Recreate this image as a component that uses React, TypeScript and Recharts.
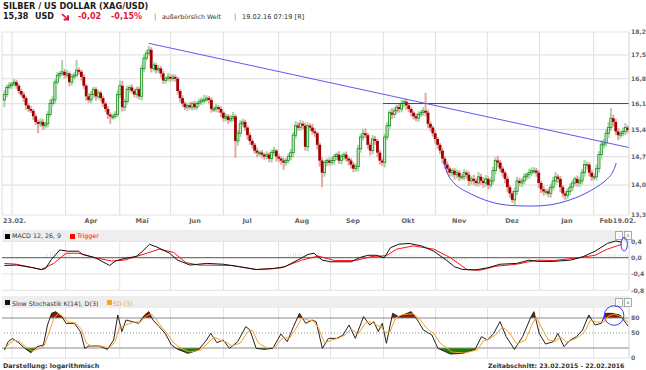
import React from 'react';
import {
  ComposedChart, Bar, Line, Area, XAxis, YAxis, CartesianGrid, ReferenceLine, ReferenceDot,
} from 'recharts';

const FONT = '"DejaVu Sans", Verdana, sans-serif';

// ---- price data (trading-day index 0 = 23.02.2015) ----
const firstOpen = 16.2;
const closes = [
  16.35, 16.55, 16.6, 16.65, 16.7, 16.6, 16.45, 16.35, 16.25, 16.05,
  15.95, 15.9, 15.75, 15.6, 15.55, 15.6, 15.5, 15.55, 15.8, 16.1,
  16.2, 16.7, 16.9, 16.95, 17.0, 16.9, 16.95, 16.7, 16.85, 16.9,
  17.05, 17.0, 16.85, 16.6, 16.3, 16.2, 16.35, 16.5, 16.3, 16.4,
  16.25, 16.1, 15.95, 15.8, 15.75, 15.75, 15.8, 16.35, 16.6, 16.0,
  16.15, 16.5, 16.55, 16.45, 16.35, 16.5, 16.3, 17.1, 17.4, 17.55,
  17.65, 17.1, 17.2, 17.05, 17.1, 16.95, 16.75, 16.8, 16.85, 16.8,
  16.85, 16.8, 16.45, 16.25, 16.1, 16.0, 16.05, 16.0, 16.1, 16.0,
  16.1, 16.15, 16.2, 16.2, 16.25, 16.2, 15.95, 15.95, 16.0, 15.95,
  15.85, 15.7, 15.75, 15.65, 15.7, 15.75, 15.1, 15.3, 15.55, 15.6,
  15.45, 15.25, 15.1, 15.0, 14.85, 14.8, 14.8, 14.75, 14.7, 14.75,
  14.65, 14.8, 14.85, 14.7, 14.65, 14.6, 14.55, 14.6, 14.7, 14.8,
  15.25, 15.5, 15.45, 15.55, 15.5, 14.95, 15.5, 15.45, 15.35, 15.3,
  15.0, 14.6, 14.3, 14.55, 14.6, 14.55, 14.6, 14.7, 14.75, 14.6,
  14.7, 14.75, 14.65, 14.6, 14.5, 14.4, 14.45, 14.9, 15.2, 15.3,
  15.25, 15.0, 14.85, 15.15, 15.1, 14.8, 14.6, 14.55, 15.2, 15.5,
  15.85, 15.8, 15.9, 16.0, 15.95, 16.1, 16.15, 16.05, 15.95, 15.85,
  15.75, 15.7, 15.8, 15.85, 15.9, 15.85, 15.55, 15.45, 15.3, 15.15,
  15.0, 14.85, 14.65, 14.5, 14.4, 14.3, 14.35, 14.25, 14.3, 14.2,
  14.2, 14.3, 14.25, 14.1, 14.15, 14.1, 14.05, 14.2, 14.1, 14.05,
  14.15, 14.0, 14.1, 14.35, 14.6, 14.55, 14.4, 14.3, 14.15, 13.95,
  13.8, 13.65, 13.85, 14.1, 14.05, 14.1, 14.2, 14.25, 14.3, 14.35,
  14.35, 14.3, 14.05, 13.9, 13.85, 13.85, 13.8, 13.95, 14.1, 14.2,
  14.15, 13.95, 13.8, 13.75, 13.85, 13.95, 14.05, 14.15, 14.05, 14.1,
  14.3, 14.5, 14.5, 14.3, 14.2, 14.2, 14.4, 14.75, 15.0, 15.05,
  15.3, 15.45, 15.7, 15.6, 15.35, 15.25, 15.3, 15.35, 15.45, 15.38,
];
// wick lengths in cents above max(open, close) / below min(open, close)
const upperWicks = [
  12, 8, 10, 6, 9, 7, 5, 6, 8, 5, 6, 8, 5, 7, 6, 10, 8, 6, 9, 12,
  10, 8, 9, 7, 35, 8, 10, 6, 9, 8, 30, 7, 6, 8, 5, 9, 10, 7, 6, 8,
  6, 7, 5, 8, 6, 7, 9, 12, 15, 14, 8, 10, 7, 9, 6, 8, 7, 10, 12, 9,
  13, 8, 9, 6, 10, 7, 8, 6, 12, 9, 8, 7, 6, 5, 8, 6, 7, 9, 6, 8,
  6, 9, 7, 14, 8, 6, 7, 8, 10, 6, 7, 5, 8, 6, 9, 12, 5, 8, 10, 9,
  6, 5, 7, 6, 5, 8, 6, 7, 5, 9, 6, 8, 10, 5, 7, 6, 8, 6, 9, 10,
  8, 12, 9, 10, 7, 8, 9, 6, 10, 8, 5, 6, 8, 7, 6, 8, 10, 7, 6, 9,
  7, 6, 8, 5, 6, 7, 8, 10, 9, 12, 13, 6, 7, 10, 8, 5, 6, 7, 9, 10,
  8, 12, 9, 7, 10, 10, 6, 8, 7, 6, 5, 8, 9, 7, 10, 50, 8, 6, 5, 7,
  6, 5, 7, 6, 8, 5, 6, 7, 8, 6, 7, 9, 6, 8, 7, 10, 6, 12, 7, 8,
  9, 6, 8, 10, 8, 12, 7, 6, 5, 8, 6, 7, 9, 10, 8, 7, 9, 6, 10, 8,
  9, 7, 6, 5, 8, 6, 7, 8, 10, 12, 6, 7, 5, 6, 8, 9, 7, 6, 8, 10,
  9, 12, 8, 6, 7, 8, 10, 9, 12, 10, 12, 15, 27, 10, 8, 9, 7, 10, 12, 6,
];
const lowerWicks = [
  20, 8, 6, 10, 7, 9, 8, 6, 10, 12, 8, 6, 10, 8, 25, 9, 12, 8, 10, 6,
  8, 12, 6, 9, 7, 10, 8, 12, 9, 7, 6, 8, 10, 9, 12, 8, 10, 9, 12, 8,
  9, 10, 8, 12, 20, 9, 7, 8, 10, 12, 10, 8, 9, 7, 8, 10, 9, 12, 10, 8,
  7, 12, 9, 10, 8, 12, 10, 9, 8, 10, 7, 9, 10, 12, 9, 8, 10, 7, 9, 8,
  7, 8, 9, 10, 6, 12, 10, 8, 9, 10, 12, 9, 8, 10, 7, 9, 43, 12, 10, 8,
  9, 12, 10, 9, 8, 12, 10, 9, 8, 7, 9, 10, 8, 12, 9, 10, 18, 8, 7, 9,
  12, 10, 8, 9, 10, 10, 12, 9, 8, 10, 12, 15, 35, 10, 9, 8, 7, 10, 9, 8,
  10, 9, 8, 12, 10, 9, 8, 12, 10, 9, 8, 10, 12, 9, 10, 12, 10, 9, 12, 8,
  10, 12, 9, 8, 10, 9, 10, 12, 9, 10, 9, 8, 10, 7, 9, 10, 12, 10, 9, 12,
  10, 9, 12, 10, 11, 9, 10, 12, 9, 10, 8, 9, 10, 12, 9, 10, 8, 9, 10, 12,
  9, 10, 8, 9, 10, 12, 9, 10, 11, 12, 10, 7, 12, 9, 8, 10, 9, 8, 10, 9,
  8, 10, 12, 9, 10, 8, 9, 10, 8, 9, 10, 12, 9, 10, 8, 9, 10, 8, 9, 10,
  9, 10, 12, 9, 10, 8, 9, 10, 12, 9, 10, 12, 9, 12, 10, 13, 9, 8, 10, 9,
];

// drawn analysis lines on the price panel
const trendLine: [number, number][] = [[60, 17.85], [259.5, 14.93]];
const resistance: [number, number][] = [[157.3, 16.1], [259.5, 16.1]];
const arcPoints: [number, number][] = [
  [182.6, 14.56], [183.5, 14.37], [185.1, 14.17], [188.0, 13.98], [191.4, 13.86],
  [197.6, 13.69], [205.9, 13.55], [214.2, 13.51], [222.5, 13.51], [230.8, 13.58],
  [239.1, 13.74], [245.4, 13.93], [249.6, 14.1], [252.5, 14.29], [254.2, 14.54],
];

// axis ticks
const priceTicks = [13.3, 14.0, 14.7, 15.4, 16.1, 16.8, 17.5, 18.2];
const gridDays = [-1, 3.2, 25.4, 47.9, 69, 91, 113.9, 135.5, 157.5, 179.1, 200.7, 222.3, 244.8];
const dateTicks = [-0.6, 36, 57.2, 79.2, 100.8, 123.6, 144.8, 167.7, 188.9, 210.9, 233.7, 250.0, 252.8];
const dateLabels = ['23.02.', 'Apr', 'Mai', 'Jun', 'Jul', 'Aug', 'Sep', 'Okt', 'Nov', 'Dez', 'Jan', 'Feb', '19.02.'];

// ---- MACD ----
const macdHist = [
  -2, -2, -1, -2, -3, -3, -3, -4, -4, -3, -3, -2, -2, -1, -1, 0, 2,
  6, 10, 14, 18, 20, 20, 18, 15, 12, 9, 6, 4, 3, 2, 1, 0,
  -2, -3, -4, -5, -6, -6, -5, -4, -3, -2, -1, 0, 1, 2, 2, 3, 4, 5,
  6, 6, 7, 8, 9, 10, 10, 9, 8, 6, 4, 2,
  0, -2, -4, -5, -6, -7, -8, -8, -7, -6, -5, -4, -3, -2, -1, -1,
  0, 1, 1, 0, -1, 0, 1, 1, 0, -1, -1, -1, 0, 0,
  -1, -2, -2, -2, -3, -2, -2, -1, -1, -1, 0, 0,
  1, 1, 2, 2, 3, 2, 2, 1, 1, 2, 2, 3, 4,
  6, 9, 12, 13, 12, 11, 10, 8, 7, 6, 5,
  3, 2, 0, -1, -2, -2, -3, -3, -3, -3, -2, -2, -2, -1, -1, 0, 1,
  3, 4, 5, 5, 4, 3, 2, 1, 1, 0, -1, 0, 1,
  4, 7, 9, 10, 11, 11, 10, 10, 9, 9, 8, 8, 7, 7, 6, 5, 4, 3, 2, 1,
  0, -2, -4, -6, -8, -10, -11, -12, -12, -11, -10, -8, -6, -4, -2,
  -1, 0, 0, 1, 1, 2, 3, 4, 4, 4, 3, 3, 2, 2, 1, 1, 1, 2, 3, 4, 5,
  5, 5, 4, 3, 2, 1, 1, 1, 1, 1, 2, 2, 1, 1, 1, 2, 2, 1, 1, 1, 2, 2, 2, 2,
  3, 4, 4, 5, 5, 5, 5, 6, 6, 7, 8, 8, 9, 9, 10, 10, 9, 9, 8, 8, 7,
];
const macdLine: [number, number][] = [
  [0, -0.19], [5, -0.18], [11.9, -0.245], [15.3, -0.29], [17, -0.27], [19.6, -0.04], [23, 0.19],
  [26.5, 0.16], [30.8, 0.16], [32.5, 0.08], [37.7, 0], [43.7, -0.19], [46.2, -0.08], [49.7, -0.02],
  [54.8, 0.03], [57.4, 0.16], [60.3, 0.33], [63.4, 0.26], [68.6, 0.11], [72, -0.06], [77.1, -0.18],
  [84, -0.14], [90.9, -0.16], [97.7, -0.22], [104.6, -0.29], [111.5, -0.27], [116.6, -0.22],
  [121.8, -0.06], [126.1, 0.08], [128.6, 0.11], [132.1, -0.06], [135.5, -0.1], [144.1, -0.1],
  [147.5, 0], [151, 0.06], [154.4, 0.06], [157.8, 0], [160.4, 0.245], [163.8, 0.33], [168.1, 0.35],
  [173.3, 0.29], [178.4, 0.16], [183.6, -0.06], [187, -0.22], [190.4, -0.29], [195.6, -0.3],
  [200.7, -0.25], [205.9, -0.16], [212.8, -0.14], [218, -0.06], [221.4, -0.09], [228.2, -0.09],
  [235.1, -0.06], [240.2, 0.02], [245.4, 0.16], [250.5, 0.35], [254, 0.41], [256.5, 0.38],
];
const triggerLine: [number, number][] = [
  [0, -0.14], [5, -0.16], [15.3, -0.29], [20.5, -0.14], [25.6, 0.11], [30.8, 0.11], [37.7, 0],
  [44.5, -0.08], [49.7, -0.06], [56.5, 0.06], [64.3, 0.21], [70.3, 0.13], [75.4, -0.12],
  [80.6, -0.18], [94.3, -0.19], [104.6, -0.29], [114.9, -0.25], [123.5, -0.06], [130.4, 0.04],
  [137.2, -0.07], [145.8, -0.07], [152.7, 0.03], [158.7, 0.05], [163, 0.21], [169.8, 0.29],
  [178.4, 0.21], [185.3, 0], [192.2, -0.29], [197.3, -0.31], [204.2, -0.21], [212.8, -0.16],
  [221.4, -0.06], [228.2, -0.07], [238.5, 0], [245.4, 0.06], [250.5, 0.21], [256.5, 0.33],
];
const macdTicks = [-0.8, -0.4, 0, 0.4];

// ---- Slow Stochastic ----
const stochK: [number, number][] = [
  [0, 16], [1.6, 32.7], [3.3, 39], [5.9, 30.7], [8.5, 19.3], [11, 10.7], [13.6, 22.7], [16.2, 26],
  [17.9, 66], [19.6, 89.3], [21.3, 92.7], [23.9, 82.7], [25.6, 69.3], [29.1, 69.3], [31.6, 52.7],
  [33.4, 19.3], [35.1, 24], [39.4, 24], [42.8, 17.3], [45.4, 36], [47.1, 86], [48.8, 52.7],
  [50.5, 76], [53.1, 72.7], [55.7, 69.3], [58.3, 86], [60, 92.7], [61.7, 76], [64.3, 62.7],
  [66.8, 49.3], [69.4, 26], [72, 17.3], [76.3, 9.3], [80.6, 16], [84, 36], [85.7, 49.3],
  [88.3, 30.7], [90.9, 36], [93.5, 19.3], [96.9, 32.7], [100.3, 62.7], [102, 56], [104.6, 19.3],
  [108, 17.3], [111.5, 19.3], [114.9, 48], [117.5, 32.7], [120.1, 62.7], [122.6, 89.3],
  [125.2, 69.3], [127.8, 76], [129.5, 72.7], [132.1, 19.3], [134.6, 39.3], [138.1, 39.3],
  [140.7, 46], [143.2, 66], [145.8, 39.3], [149.2, 82.7], [151.8, 66], [153.5, 72.7],
  [155.3, 52.7], [157, 69.3], [158.7, 29.3], [161.3, 89.3], [163.8, 82.7], [167.3, 89.3],
  [169, 92.7], [171.6, 76], [174.1, 56], [177.6, 46], [180.1, 19.3], [185.3, 8], [190.4, 9.3],
  [195.6, 17.3], [198.2, 42.7], [200.7, 36], [203.3, 49.3], [205.9, 72.7], [208.5, 42.7],
  [211.9, 17.3], [215.3, 42.7], [218.8, 82.7], [220, 92.7], [222.2, 49.3], [224.8, 28],
  [228.2, 32.7], [229.9, 49.3], [232.5, 22.7], [235.1, 36], [237.7, 42.7], [240.2, 56],
  [242.8, 86], [245.4, 66], [248, 69.3], [249.7, 89.3], [252.3, 89.3], [255.7, 86],
  [258.3, 69.3], [259.1, 64],
];
const stochD: [number, number][] = [
  [0, 20], [2, 28], [4, 36], [6.5, 32], [9, 22], [11.5, 14], [14, 18], [16.5, 24], [18.5, 50],
  [20.5, 80], [22.5, 89], [24.5, 82], [26.5, 72], [29.5, 70], [32, 58], [34, 30], [36, 24],
  [40, 24], [43.5, 20], [46, 32], [47.8, 62], [49.5, 64], [51.5, 68], [54, 72], [56.5, 72],
  [59, 84], [61, 88], [63, 78], [65, 64], [67.5, 50], [70, 32], [73, 20], [77, 12], [81.5, 16],
  [85, 32], [87, 42], [89.5, 36], [92, 32], [94.5, 24], [98, 30], [101, 52], [103, 55],
  [105.5, 30], [109, 20], [112.5, 22], [115.5, 40], [118.5, 40], [121, 58], [123.5, 80],
  [126, 76], [128.5, 74], [130.5, 60], [133, 30], [136, 36], [139, 40], [141.5, 46], [144, 58],
  [147, 48], [150, 70], [152.5, 72], [154.5, 66], [156.5, 62], [158, 52], [160, 50],
  [162.5, 80], [165, 86], [168, 88], [170, 88], [172.5, 78], [175, 62], [178.5, 48], [181, 30],
  [186, 12], [191, 10], [196.5, 16], [199, 34], [201.5, 38], [204, 46], [207, 62], [209.5, 52],
  [213, 28], [216.5, 36], [219.5, 70], [221, 82], [223, 62], [226, 36], [229, 34], [231, 42],
  [233.5, 32], [236, 36], [238.5, 42], [241, 52], [243.5, 76], [246, 72], [249, 72], [251, 84],
  [253.5, 88], [256.5, 82], [259.1, 72],
];
const stochTicks = [0, 50, 80];

// ---- build tables ----
const candles = closes.map((c, i) => {
  const o = i === 0 ? firstOpen : closes[i - 1];
  const h = Math.max(o, c) + upperWicks[i] / 100;
  const l = Math.min(o, c) - lowerWicks[i] / 100;
  return { i, o, c, h, l, range: [l, h] };
});
const toPts = (a: [number, number][]) => a.map(([i, v]) => ({ i, v }));
const histData = macdHist.map((h, i) => ({ i, h: h / 100 }));

function thresholdFill(pts: [number, number][], level: number, above: boolean) {
  const out: { i: number; f: [number, number] }[] = [];
  pts.forEach(([x, v], j) => {
    if (j > 0) {
      const [x0, v0] = pts[j - 1];
      if ((v0 - level) * (v - level) < 0) {
        const t = (level - v0) / (v - v0);
        out.push({ i: x0 + t * (x - x0), f: [level, level] });
      }
    }
    const cl = above ? Math.max(v, level) : Math.min(v, level);
    out.push({ i: x, f: above ? [level, cl] : [cl, level] });
  });
  return out;
}
const fillHigh = thresholdFill(stochK, 80, true);
const fillLow = thresholdFill(stochK, 20, false);

const X_DOMAIN: [number, number] = [-1, 259.5];
const comma = (d: number) => (v: number) => v.toFixed(d).replace('.', ',');

const Candle = (props: any) => {
  let { x, y, width, height } = props;
  const p = props.payload;
  if (!p || x == null || y == null) return null;
  if (height < 0) { y += height; height = -height; }
  const cx = x + width / 2;
  const lh = Math.log(p.h), ll = Math.log(p.l);
  const yv = (v: number) => y + (height * (lh - Math.log(v))) / (lh - ll);
  const up = p.c >= p.o;
  const top = yv(Math.max(p.o, p.c));
  const bot = yv(Math.min(p.o, p.c));
  const bh = Math.max(1, bot - top);
  return (
    <g>
      <rect x={cx - 1} y={y} width={2} height={Math.max(1, height)} fill={up ? '#a3d8a3' : '#e6a6a6'} />
      {up ? (
        <rect x={cx - 1.1} y={top} width={2.2} height={bh} fill="#c8ecc8" stroke="#1c8c1c" strokeWidth={0.8} />
      ) : (
        <rect x={cx - 1.4} y={top} width={2.8} height={bh} fill="#a00000" />
      )}
    </g>
  );
};

const rightTick = (fmt: (v: number) => string) => (p: any) => (
  <text x={p.x} y={p.y} dy={2.3} textAnchor="start" fontSize={6.1} fontWeight="bold" fill="#666" fontFamily={FONT}>
    {fmt(p.payload.value)}
  </text>
);

const DateTick = (p: any) => {
  const v = p.payload.value;
  let k = 0;
  dateTicks.forEach((t, j) => { if (Math.abs(t - v) < Math.abs(dateTicks[k] - v)) k = j; });
  const anchor = k === 0 || k === dateTicks.length - 1 ? 'start' : 'middle';
  return (
    <text x={p.x} y={p.y} dy={7.8} textAnchor={anchor} fontSize={6.5} fontWeight="bold" fill="#666" fontFamily={FONT}>
      {dateLabels[k]}
    </text>
  );
};

const abs = (l: number, t: number, extra: React.CSSProperties = {}): React.CSSProperties => ({
  position: 'absolute', left: l, top: t, whiteSpace: 'nowrap', fontFamily: FONT, ...extra,
});

const HeaderIcons = ({ top }: { top: number }) => (
  <>
    <div style={abs(615, top, { width: 6, height: 7, border: '1px solid #aaa', background: '#fafafa', fontSize: 5, lineHeight: '7px', textAlign: 'center', color: '#777' })}>:</div>
    <div style={abs(624, top, { width: 6, height: 7, border: '1px solid #aaa', background: '#fafafa', fontSize: 5, lineHeight: '7px', textAlign: 'center', color: '#777' })}>x</div>
  </>
);

export default function App() {
  const red = '#e2153d';
  return (
    <div style={{ position: 'absolute', left: 0, top: 0, width: 646, height: 370, background: '#fff', overflow: 'hidden' }}>
      {/* headline */}
      <div style={abs(3, 0.5, { fontSize: 8.2, fontWeight: 'bold', color: '#1a1a1a', lineHeight: '10px' })}>SILBER / US DOLLAR (XAG/USD)</div>
      <div style={abs(3, 11.5, { fontSize: 8, fontWeight: 'bold', color: '#1a1a1a', lineHeight: '10px' })}>15,38</div>
      <div style={abs(35, 11.5, { fontSize: 8, fontWeight: 'bold', color: '#1a1a1a', lineHeight: '10px' })}>USD</div>
      <svg style={abs(61, 13)} width={9} height={8} viewBox="0 0 9 8">
        <path d="M0.5 1.8 L1.8 0.5 L6 4.7 L6 2.2 L8 2.2 L8 7.5 L2.7 7.5 L2.7 5.5 L4.9 5.5 Z" fill={red} />
      </svg>
      <div style={abs(78, 11.5, { fontSize: 8, fontWeight: 'bold', color: red, lineHeight: '10px' })}>-0,02</div>
      <div style={abs(111, 11.5, { fontSize: 8, fontWeight: 'bold', color: red, lineHeight: '10px' })}>-0,15%</div>
      <div style={abs(154, 11.5, { fontSize: 7, color: '#777', lineHeight: '10px' })}>|</div>
      <div style={abs(162, 12, { fontSize: 6.3, color: '#333', lineHeight: '10px' })}>außerbörslich Welt</div>
      <div style={abs(234, 11.5, { fontSize: 7, color: '#777', lineHeight: '10px' })}>|</div>
      <div style={abs(242, 12, { fontSize: 6.6, color: '#333', lineHeight: '10px' })}>19.02.16 07:19 [R]</div>

      {/* price panel */}
      <div style={{ position: 'absolute', left: 0, top: 0 }}>
        <ComposedChart width={646} height={232} data={candles} margin={{ top: 32, right: 0, left: 2, bottom: 0 }}>
          <CartesianGrid stroke="#e3e3e3" strokeWidth={1.2} verticalValues={gridDays} />
          <XAxis dataKey="i" type="number" domain={X_DOMAIN} ticks={dateTicks} tick={DateTick} tickSize={0} tickMargin={0}
            axisLine={false} tickLine={false} height={17} interval={0} allowDataOverflow />
          <YAxis orientation="right" scale="log" domain={[13.3, 18.2]} ticks={priceTicks} width={17} tickSize={0} tickMargin={2}
            tick={rightTick(comma(1))} axisLine={{ stroke: '#d0d0d0' }} tickLine={false} allowDataOverflow interval={0} />
          <Bar dataKey="range" barSize={3} isAnimationActive={false} shape={(p: any) => <Candle {...p} />} />
          <Line data={toPts(arcPoints)} dataKey="v" type="natural" stroke="#5050ea" strokeWidth={1} dot={false} isAnimationActive={false} />
          <ReferenceLine segment={resistance.map(([x, y]) => ({ x, y }))} stroke="#3c3cc4" strokeWidth={1} />
          <ReferenceLine segment={trendLine.map(([x, y]) => ({ x, y }))} stroke="#5a5af0" strokeWidth={1} />
        </ComposedChart>
      </div>

      {/* MACD panel */}
      <div style={abs(2, 230, { width: 627, height: 11, background: '#eeeeee' })} />
      <div style={abs(5, 233.5, { width: 5, height: 5, background: '#000' })} />
      <div style={abs(12, 232, { fontSize: 6.3, color: '#333', lineHeight: '8px' })}>MACD 12, 26, 9</div>
      <div style={abs(70, 233.5, { width: 5, height: 5, background: '#f00' })} />
      <div style={abs(77, 232, { fontSize: 6.3, color: '#f00', lineHeight: '8px' })}>Trigger</div>
      <HeaderIcons top={231} />
      <div style={{ position: 'absolute', left: 0, top: 226 }}>
        <ComposedChart width={646} height={70} data={histData} margin={{ top: 14.6, right: 0, left: 2, bottom: 5.7 }}>
          <CartesianGrid stroke="#e3e3e3" verticalValues={gridDays} horizontalValues={[0.4, -0.4, -0.8]} />
          <XAxis dataKey="i" type="number" domain={X_DOMAIN} hide allowDataOverflow />
          <YAxis orientation="right" domain={[-0.8, 0.42]} ticks={macdTicks} width={17} tickSize={0} tickMargin={2}
            tick={rightTick(comma(1))} axisLine={{ stroke: '#d0d0d0' }} tickLine={false} interval={0} />
          <Bar dataKey="h" barSize={1.2} fill="#84a074" isAnimationActive={false} />
          <ReferenceLine y={0} stroke="#555" strokeWidth={1} />
          <Line data={toPts(triggerLine)} dataKey="v" type="linear" stroke="#ff1010" strokeWidth={1} dot={false} isAnimationActive={false} />
          <Line data={toPts(macdLine)} dataKey="v" type="linear" stroke="#111" strokeWidth={1} dot={false} isAnimationActive={false} />
          <ReferenceDot x={257.5} y={0.33} r={6} isFront
            shape={(p: any) => <ellipse cx={p.cx} cy={p.cy} rx={3.2} ry={6.8} fill="none" stroke="#3a3af0" strokeWidth={1} />} />
        </ComposedChart>
      </div>

      {/* Stochastic panel */}
      <div style={abs(2, 296, { width: 627, height: 12, background: '#eeeeee' })} />
      <div style={abs(5, 300, { width: 5, height: 5, background: '#111' })} />
      <div style={abs(12, 299.5, { fontSize: 6.3, color: '#333', lineHeight: '8px' })}>Slow Stochastik K(14), D(3)</div>
      <div style={abs(107, 300, { width: 5, height: 5, background: '#f5a623' })} />
      <div style={abs(113, 299.5, { fontSize: 6.3, color: '#f5a623', lineHeight: '8px' })}>SD (3)</div>
      <HeaderIcons top={298} />
      <div style={{ position: 'absolute', left: 0, top: 294 }}>
        <ComposedChart width={646} height={66} margin={{ top: 14, right: 0, left: 2, bottom: 2 }}>
          <CartesianGrid stroke="#e3e3e3" verticalValues={gridDays} horizontalValues={[0]} />
          <XAxis dataKey="i" type="number" domain={X_DOMAIN} hide allowDataOverflow />
          <YAxis orientation="right" domain={[0, 100]} ticks={stochTicks} width={17} tickSize={0} tickMargin={2}
            tick={rightTick((v) => String(v))} axisLine={{ stroke: '#d0d0d0' }} tickLine={false} interval={0} />
          <Area data={fillHigh} dataKey="f" type="linear" stroke="none" fill="#8a1a00" fillOpacity={1} isAnimationActive={false} />
          <Area data={fillLow} dataKey="f" type="linear" stroke="none" fill="#1f7d00" fillOpacity={1} isAnimationActive={false} />
          <ReferenceLine y={80} stroke="#8a8a8a" strokeWidth={1} />
          <ReferenceLine y={50} stroke="#8a8a8a" strokeWidth={1} strokeDasharray="1 2" />
          <ReferenceLine y={20} stroke="#8a8a8a" strokeWidth={1} />
          <Line data={toPts(stochK)} dataKey="v" type="linear" stroke="#222" strokeWidth={1} dot={false} isAnimationActive={false} />
          <Line data={toPts(stochD)} dataKey="v" type="linear" stroke="#f0a030" strokeWidth={1} dot={false} isAnimationActive={false} />
          <ReferenceDot x={253.3} y={85} r={10} isFront
            shape={(p: any) => <circle cx={p.cx} cy={p.cy} r={9.8} fill="none" stroke="#3a3af0" strokeWidth={1} />} />
        </ComposedChart>
      </div>

      {/* footer */}
      <div style={abs(3, 362, { fontSize: 6.4, fontWeight: 'bold', color: '#333', lineHeight: '8px' })}>Darstellung: logarithmisch</div>
      <div style={abs(488, 362, { fontSize: 6.2, fontWeight: 'bold', color: '#333', lineHeight: '8px' })}>Zeitabschnitt: 23.02.2015 - 22.02.2016</div>
    </div>
  );
}
